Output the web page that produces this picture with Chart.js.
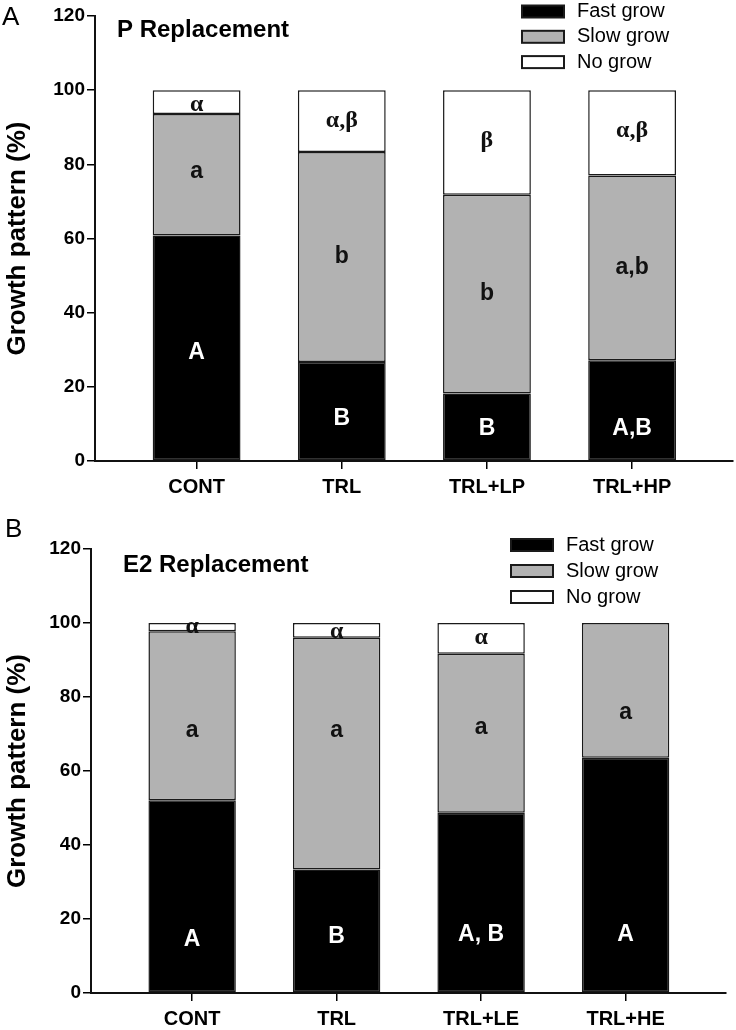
<!DOCTYPE html>
<html>
<head>
<meta charset="utf-8">
<script src="https://cdn.jsdelivr.net/npm/chart.js@4"></script>
<style>
    body { margin: 0; background: #fff; }
    .panel { position: absolute; left: 0; }
    #panelA { top: 0; }
    #panelB { top: 512px; }
</style>
</head>
<body>
<div class="panel" id="panelA"><canvas id="chartA" width="736" height="512"></canvas></div>
<div class="panel" id="panelB"><canvas id="chartB" width="736" height="518"></canvas></div>
<script>
// 공통 범례 / 축
const seriesNames = ['Fast grow', 'Slow grow', 'No grow'];
const yTickValues = [0, 20, 40, 60, 80, 100, 120];

// A: P Replacement
const categoriesA = ['CONT', 'TRL', 'TRL+LP', 'TRL+HP'];
const fastA = [60.8, 26.7, 18.2, 27.2];
const slowA = [32.8, 56.6, 53.6, 49.8];
const noneA = [6.4, 16.7, 28.2, 23.0];
const fastLettersA = ['A', 'B', 'B', 'A,B'];
const slowLettersA = ['a', 'b', 'b', 'a,b'];
const noneLettersA = ['\u03b1', '\u03b1,\u03b2', '\u03b2', '\u03b1,\u03b2'];

// B: E2 Replacement
const categoriesB = ['CONT', 'TRL', 'TRL+LE', 'TRL+HE'];
const fastB = [52.1, 33.4, 48.7, 63.6];
const slowB = [45.7, 62.6, 43.0, 36.4];
const noneB = [2.2, 4.0, 8.3, 0];
const fastLettersB = ['A', 'B', 'A, B', 'A'];
const slowLettersB = ['a', 'a', 'a', 'a'];
const noneLettersB = ['\u03b1', '\u03b1', '\u03b1', ''];

Chart.defaults.font.family = '"Liberation Sans", Arial, sans-serif';
Chart.defaults.color = '#000';

const colors = ['#000000', '#b2b2b2', '#ffffff'];
const edge = '#1a1a1a';

function makePanel(canvasId, categories, values, letters, p) {
    // 막대 안의 글자
    const stackLabels = {
        id: 'stackLabels',
        afterDatasetsDraw(chart) {
            const ctx = chart.ctx;
            const yScale = chart.scales.y;
            ctx.save();
            ctx.textAlign = 'center';
            ctx.textBaseline = 'middle';
            letters.forEach((row, i) => {
                const bars = chart.getDatasetMeta(i).data;
                row.forEach((txt, j) => {
                    if (!txt) return;
                    const greek = /[\u03b1-\u03c9]/.test(txt);
                    ctx.font = greek ? 'bold 24px "Liberation Serif"' : 'bold 23px "Liberation Sans"';
                    ctx.fillStyle = i === 0 ? '#fff' : '#111';
                    ctx.fillText(txt, bars[j].x, yScale.getPixelForValue(p.letterAt[i][j]));
                });
            });
            ctx.restore();
        }
    };

    // 범례 + 패널 제목
    const panelText = {
        id: 'panelText',
        afterDraw(chart) {
            const ctx = chart.ctx;
            ctx.save();
            ctx.textBaseline = 'middle';
            ctx.textAlign = 'left';
            chart.data.datasets.forEach((ds, i) => {
                const y = p.legendTop + i * p.legendGap;
                ctx.fillStyle = edge;
                ctx.fillRect(p.legendLeft, y - 7, 44, 14);
                ctx.fillStyle = ds.backgroundColor;
                ctx.fillRect(p.legendLeft + 2, y - 5, 40, 10);
                ctx.fillStyle = '#000';
                ctx.font = '20px "Liberation Sans"';
                ctx.fillText(ds.label, p.legendLeft + 56, y);
            });
            ctx.font = 'bold 24px "Liberation Sans"';
            ctx.fillText(p.title, p.titleX, p.titleY);
            ctx.font = '26px "Liberation Sans"';
            ctx.fillText(p.letter, p.letterX, p.letterY);
            ctx.restore();
        }
    };

    const canvas = document.getElementById(canvasId);
    return new Chart(canvas.getContext('2d'), {
        type: 'bar',
        data: {
            datasets: values.map((vals, i) => ({
                label: seriesNames[i],
                data: vals.map((v, j) => ({ x: j, y: v })),
                backgroundColor: colors[i],
                borderColor: edge,
                borderWidth: 1.5,
                borderSkipped: false,
                categoryPercentage: 1,
                barPercentage: 0.605
            }))
        },
        options: {
            responsive: false,
            animation: false,
            events: [],
            layout: { padding: { top: p.top, left: 0, right: p.right, bottom: 0 } },
            plugins: {
                legend: { display: false },
                tooltip: { enabled: false }
            },
            scales: {
                x: {
                    type: 'linear',
                    stacked: true,
                    offset: false,
                    min: -0.7,
                    max: 3.695,
                    afterBuildTicks: (axis) => {
                        axis.ticks = categories.map((c, i) => ({ value: i }));
                    },
                    afterFit: (axis) => { axis.height = p.xHeight; },
                    ticks: {
                        callback: (v) => categories[v],
                        font: { size: 20, weight: 'bold' },
                        padding: 6,
                        maxRotation: 0,
                        autoSkip: false
                    },
                    grid: { offset: false, drawOnChartArea: false, tickLength: 8, color: '#000', lineWidth: 1.5 },
                    border: { color: '#111', width: 2 }
                },
                y: {
                    stacked: true,
                    min: 0,
                    max: 120,
                    afterBuildTicks: (axis) => {
                        axis.ticks = yTickValues.map(v => ({ value: v }));
                    },
                    afterFit: (axis) => { axis.width = p.yWidth; },
                    ticks: { font: { size: 19, weight: 'bold' }, padding: 2 },
                    grid: { drawOnChartArea: false, tickLength: 8, color: '#000', lineWidth: 1.5 },
                    border: { color: '#111', width: 2 },
                    title: {
                        display: true,
                        text: 'Growth pattern (%)',
                        font: { size: 26, weight: 'bold' },
                        padding: { top: 2, bottom: 0 }
                    }
                }
            }
        },
        plugins: [stackLabels, panelText]
    });
}

makePanel('chartA', categoriesA, [fastA, slowA, noneA],
    [fastLettersA, slowLettersA, noneLettersA], {
        top: 16, right: 3, xHeight: 51, yWidth: 95,
        letterAt: [[29.3, 11.4, 8.7, 8.8], [78.1, 55.2, 45.2, 52.2], [96.1, 91.8, 86.4, 89.1]],
        legendLeft: 521, legendTop: 11.5, legendGap: 25.3,
        title: 'P Replacement', titleX: 117, titleY: 30,
        letter: 'A', letterX: 2, letterY: 17.5
    });

makePanel('chartB', categoriesB, [fastB, slowB, noneB],
    [fastLettersB, slowLettersB, noneLettersB], {
        top: 37, right: 10, xHeight: 37, yWidth: 91,
        letterAt: [[14.3, 15.2, 15.7, 15.7], [70.8, 70.8, 71.8, 75.8], [99.1, 97.6, 96.1, 0]],
        legendLeft: 510, legendTop: 33, legendGap: 26,
        title: 'E2 Replacement', titleX: 123, titleY: 53,
        letter: 'B', letterX: 5, letterY: 17.5
    });
</script>
</body>
</html>
